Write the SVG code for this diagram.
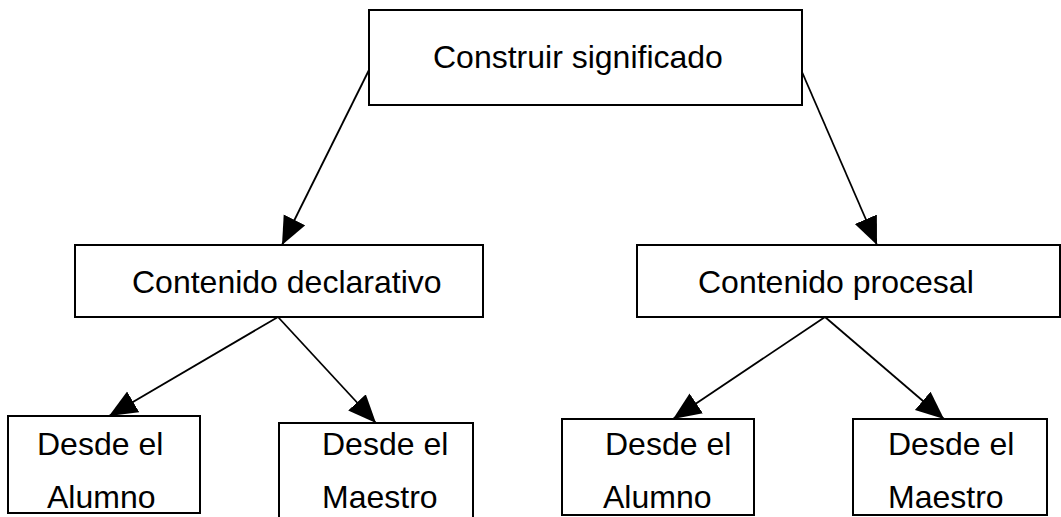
<svg xmlns="http://www.w3.org/2000/svg" width="1061" height="517" viewBox="0 0 1061 517">
<style>
.box{fill:#fff;stroke:#000;stroke-width:2}
.t{font-family:"Liberation Sans",Arial,sans-serif;font-size:32px;fill:#000}
.c{stroke:#000;stroke-width:1.8;fill:none}
</style>
<defs>
<marker id="ah" markerUnits="userSpaceOnUse" markerWidth="30" markerHeight="26" refX="28" refY="12" orient="auto">
<path d="M0,0 L28,12 L0,24 z" fill="#000"/>
</marker>
</defs>
<rect width="1061" height="517" fill="#fff"/>
<g id="n-construir">
<rect class="box" x="369" y="10" width="433" height="95"/>
<text class="t" x="433" y="68">Construir significado</text>
</g>
<g id="n-declarativo">
<rect class="box" x="75" y="245" width="408" height="72"/>
<text class="t" x="132" y="293">Contenido declarativo</text>
</g>
<g id="n-procesal">
<rect class="box" x="637" y="245" width="423" height="72"/>
<text class="t" x="698" y="293">Contenido procesal</text>
</g>
<g id="n-alumno1">
<rect class="box" x="8" y="416" width="192" height="97"/>
<text class="t" x="37" y="455">Desde el</text>
<text class="t" x="47" y="508">Alumno</text>
</g>
<g id="n-maestro1">
<rect class="box" x="279" y="423" width="194" height="100"/>
<text class="t" x="322" y="455">Desde el</text>
<text class="t" x="322" y="508">Maestro</text>
</g>
<g id="n-alumno2">
<rect class="box" x="562" y="419" width="192" height="96"/>
<text class="t" x="605" y="455">Desde el</text>
<text class="t" x="603" y="508">Alumno</text>
</g>
<g id="n-maestro2">
<rect class="box" x="853" y="419" width="194" height="96"/>
<text class="t" x="888" y="455">Desde el</text>
<text class="t" x="888" y="508">Maestro</text>
</g>
<g id="connectors">
<line class="c" x1="369" y1="70" x2="282" y2="245" marker-end="url(#ah)"/>
<line class="c" x1="802" y1="72" x2="877" y2="245" marker-end="url(#ah)"/>
<line class="c" x1="278" y1="317" x2="109" y2="416" marker-end="url(#ah)"/>
<line class="c" x1="278" y1="317" x2="376" y2="423" marker-end="url(#ah)"/>
<line class="c" x1="825" y1="317" x2="673" y2="419" marker-end="url(#ah)"/>
<line class="c" x1="825" y1="317" x2="944" y2="419" marker-end="url(#ah)"/>
</g>
</svg>
